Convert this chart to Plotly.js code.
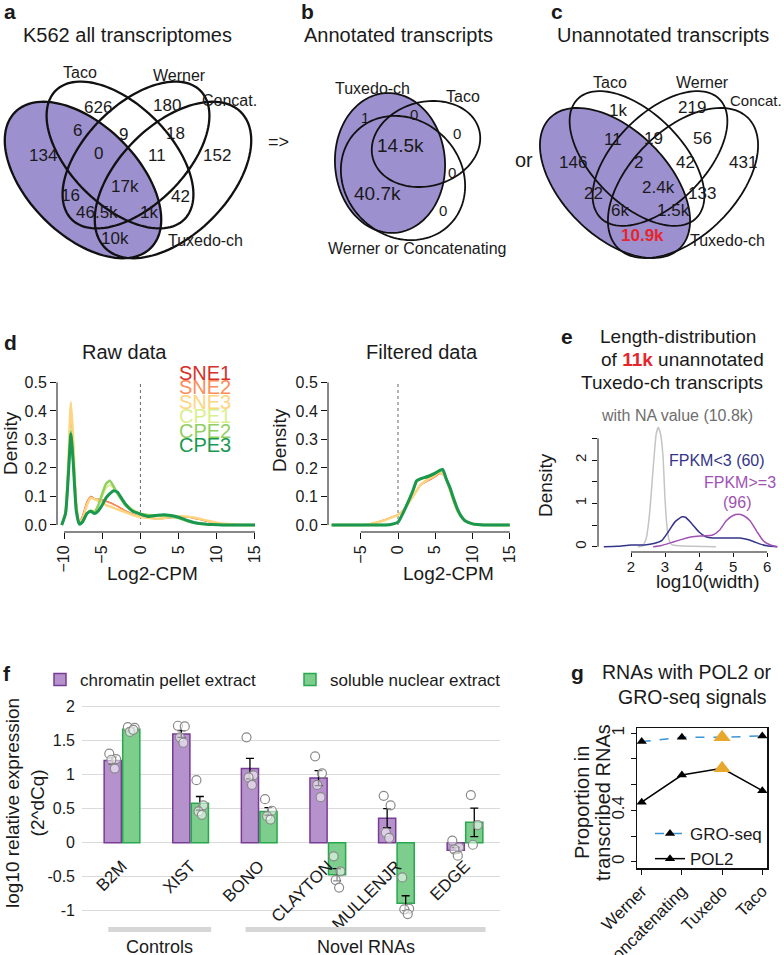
<!DOCTYPE html>
<html><head><meta charset="utf-8">
<script src="https://cdn.plot.ly/plotly-3.0.1.min.js"></script>
<style>html,body{margin:0;padding:0;background:#fff}</style>
</head><body><div id="chart" style="width:784px;height:955px"></div>
<script>
// ================= DATA =================
// Panel a: K562 all transcriptomes (4-set Venn)
const vennA_sets = ['Taco','Werner','Concat.','Tuxedo-ch'];
const vennA_counts = ['626','180','6','9','18','134','0','11','152','17k','16','42','46.5k','1k','10k'];
// Panel b: annotated transcripts (3-set Venn)
const vennB_sets = ['Tuxedo-ch','Taco','Werner or Concatenating'];
const vennB_counts = ['1','0','14.5k','0','0','40.7k','0'];
// Panel c: unannotated transcripts (4-set Venn)
const vennC_sets = ['Taco','Werner','Concat.','Tuxedo-ch'];
const vennC_counts = ['1k','219','11','19','56','146','2','42','431','2.4k','22','133','6k','1.5k','10.9k'];

// Panel d: density of Log2-CPM
const samples = ['SNE1','SNE2','SNE3','CPE1','CPE2','CPE3'];
const rawX = [-10.3,-9.8,-9.4,-9.1,-8.8,-8.4,-8.0,-7.6,-7.0,-6.5,-6.0,-5.5,-5.0,-4.5,-4.0,-3.5,-3.0,-2.5,-2.0,-1.0,0,1,2,3,4,5,6,7,8,9,10,11,12,13,14,15];
const rawSNE1 = [0,0.05,0.23,0.40,0.28,0.08,0.01,0.03,0.08,0.10,0.092,0.09,0.088,0.084,0.079,0.073,0.066,0.058,0.05,0.038,0.03,0.025,0.022,0.023,0.026,0.028,0.028,0.024,0.018,0.012,0.007,0.004,0.002,0.001,0,0];
const rawSNE2 = [0,0.05,0.24,0.42,0.29,0.08,0.01,0.03,0.08,0.10,0.09,0.09,0.088,0.083,0.078,0.072,0.066,0.058,0.05,0.038,0.03,0.025,0.022,0.023,0.026,0.028,0.028,0.024,0.018,0.012,0.007,0.004,0.002,0.001,0,0];
const rawSNE3 = [0,0.05,0.25,0.43,0.30,0.08,0.01,0.02,0.07,0.095,0.09,0.085,0.08,0.07,0.065,0.06,0.055,0.05,0.045,0.035,0.028,0.025,0.022,0.024,0.028,0.03,0.03,0.026,0.02,0.014,0.008,0.004,0.002,0.001,0,0];
const rawCPE1 = [0,0.04,0.20,0.34,0.24,0.06,0.005,0.01,0.04,0.05,0.05,0.07,0.10,0.13,0.14,0.13,0.11,0.09,0.075,0.055,0.04,0.035,0.033,0.032,0.03,0.025,0.015,0.008,0.004,0.002,0.001,0,0,0,0,0];
const rawCPE2 = [0,0.04,0.20,0.33,0.23,0.06,0.005,0.01,0.04,0.05,0.045,0.07,0.11,0.145,0.155,0.135,0.11,0.09,0.07,0.05,0.04,0.035,0.034,0.033,0.03,0.024,0.015,0.008,0.004,0.002,0.001,0,0,0,0,0];
const rawCPE3 = [0,0.04,0.19,0.32,0.22,0.05,0.003,0.01,0.04,0.048,0.04,0.05,0.07,0.095,0.11,0.12,0.115,0.095,0.075,0.048,0.038,0.03,0.033,0.036,0.033,0.027,0.017,0.009,0.004,0.002,0.001,0,0,0,0,0];
const filtX = [-8.9,-7,-5,-4,-3,-2,-1,0,1,2,2.5,3,4,5,5.5,6,6.5,7,7.5,8,8.5,9,10,11,12,13,14,15];
const filtSNE1 = [0,0,0,0.002,0.008,0.016,0.026,0.036,0.06,0.10,0.12,0.14,0.155,0.17,0.18,0.178,0.16,0.12,0.08,0.05,0.03,0.015,0.005,0.002,0.001,0,0,0];
const filtSNE2 = [0,0,0,0.002,0.008,0.016,0.026,0.036,0.06,0.10,0.12,0.14,0.155,0.17,0.18,0.178,0.16,0.12,0.08,0.05,0.03,0.015,0.005,0.002,0.001,0,0,0];
const filtSNE3 = [0,0,0,0.002,0.008,0.015,0.025,0.035,0.06,0.10,0.12,0.14,0.16,0.175,0.185,0.18,0.16,0.12,0.08,0.05,0.03,0.015,0.005,0.002,0.001,0,0,0];
const filtCPE1 = [0,0,0,0,0,0,0.002,0.01,0.06,0.12,0.15,0.16,0.17,0.18,0.19,0.19,0.16,0.125,0.085,0.05,0.028,0.014,0.004,0.001,0,0,0,0];
const filtCPE2 = [0,0,0,0,0,0,0.002,0.01,0.06,0.12,0.155,0.162,0.17,0.182,0.19,0.192,0.16,0.125,0.085,0.05,0.028,0.014,0.004,0.001,0,0,0,0];
const filtCPE3 = [0,0,0,0,0,0,0.002,0.01,0.06,0.12,0.155,0.162,0.17,0.182,0.19,0.195,0.16,0.13,0.09,0.055,0.03,0.015,0.004,0.001,0,0,0,0];

// Panel e: length distribution (log10 width)
const naX = [2.2,2.35,2.45,2.55,2.65,2.74,2.8,2.87,2.94,3.0,3.06,3.12,3.2,3.4,3.8,4.5];
const naY = [0,0.02,0.2,0.8,1.8,2.6,2.76,2.6,2.1,1.1,0.45,0.15,0.05,0.02,0.01,0];
const lowX = [1.2,1.6,2.0,2.4,2.7,2.9,3.1,3.3,3.5,3.6,3.8,4.0,4.2,4.4,4.6,4.8,5.0,5.2,5.4,5.6,5.8,6.0,6.3];
const lowY = [0,0.01,0.04,0.04,0.08,0.14,0.35,0.58,0.69,0.68,0.52,0.34,0.23,0.2,0.2,0.2,0.2,0.2,0.17,0.12,0.06,0.02,0];
const highX = [2.65,2.9,3.2,3.5,3.8,4.1,4.4,4.6,4.8,5.0,5.15,5.3,5.5,5.7,5.9,6.1,6.3];
const highY = [0,0.03,0.1,0.17,0.23,0.25,0.27,0.38,0.6,0.72,0.75,0.72,0.6,0.35,0.13,0.04,0];

// Panel f: qPCR
const genes = ['B2M','XIST','BONO','CLAYTON','MULLENJR','EDGE'];
const chromMean = [1.21,1.60,1.09,0.95,0.36,-0.11];
const chromSEM  = [0.05,0.05,0.15,0.11,0.14,0.04];
const solMean   = [1.67,0.58,0.46,-0.47,-0.89,0.30];
const solSEM    = [0.02,0.10,0.055,0.09,0.11,0.21];
const chromPts = [[1.31,1.23,1.22,1.09],[1.72,1.71,1.55,1.47],[1.55,0.99,0.96,0.85],[1.27,1.02,0.85,0.67],[0.69,0.55,0.15,0.07],[0.03,-0.07,-0.10,-0.19]];
const solPts   = [[1.70,1.69,1.63,1.66],[0.92,0.55,0.46,0.41],[0.64,0.47,0.39,0.34],[-0.20,-0.42,-0.55,-0.66],[-0.51,-0.97,-0.98,-1.05],[0.70,0.26,-0.03]];
const geneGroups = [['Controls',0,1],['Novel RNAs',2,5]];

// Panel g
const methods = ['Werner','Concatenating','Tuxedo','Taco'];
const groSeq = [0.935,0.969,0.969,0.979];
const pol2   = [0.463,0.675,0.727,0.553];

// ================= LAYOUT HELPERS =================
const W=784,H=955;
const FONT='Liberation Sans, Arial, Helvetica, sans-serif';
const TXT='#1a1a1a';
const px=x=>x/W, py=y=>1-y/H;
const dx=(a,b)=>[a/W,b/W], dy=(t,b)=>[1-b/H,1-t/H];
const ann=[], shp=[];
function A(text,x,y,size,o){o=o||{};ann.push(Object.assign({text:text,x:px(x),y:py(y),xref:'paper',yref:'paper',showarrow:false,
  xanchor:'center',yanchor:'middle',font:{family:FONT,size:size,color:o.color||TXT}},o.extra||{}));}
function ell(cx,cy,a,b,deg){const th=deg*Math.PI/180;let s='';for(let i=0;i<=120;i++){const t=2*Math.PI*i/120;
  const x=cx+a*Math.cos(th)*Math.cos(t)-b*Math.sin(th)*Math.sin(t);const y=cy+a*Math.sin(th)*Math.cos(t)+b*Math.cos(th)*Math.sin(t);
  s+=(i?'L':'M')+(x/W).toFixed(5)+','+(1-y/H).toFixed(5);}return s+'Z';}
function venn(list,lw){list.forEach(e=>shp.push({type:'path',xref:'paper',yref:'paper',path:ell(e[0],e[1],e[2],e[3],e[4]),
  fillcolor:e[5]?'#9d90cf':'rgba(0,0,0,0)',line:{color:'#111',width:lw}}));}

// ---- Venn a ----
venn([[83,180,96,55,45,true],[120,155,91,50,45],[136,155,91,50,135],[173,180,96,55,135]],2.3);
const posA=[[98,107],[167,105],[77,130],[123,135],[175,133],[43,155],[99,153],[157,155],[217,155],[125,187],[70,195],[180,197],[97,212],[149,212],[115,238]];
vennA_counts.forEach((c,i)=>A(c,posA[i][0],posA[i][1],17));
A(vennA_sets[0],80,73,16);A(vennA_sets[1],179,75,16);
A(vennA_sets[2],200,100,16,{extra:{xanchor:'left'}});A(vennA_sets[3],205,240,16);
A('K562 all transcriptomes',128,35,20);
A('<b>a</b>',10,12,21);

// ---- Venn b ----
venn([[390,163,70,55,86,true],[403,178,66,58,45],[426,144,55,42,-15]],1.8);
const posB=[[365,118],[414,115],[400,145],[457,133],[452,172],[377,193],[443,210]];
vennB_counts.forEach((c,i)=>A(c,posB[i][0],posB[i][1],c.length>2?19:15));
A(vennB_sets[0],372,88,16);A(vennB_sets[1],463,97,16);A(vennB_sets[2],417,248,16);
A('Annotated transcripts',398,35,20);
A('<b>b</b>',307,12,21);
A('=>',278,142,18);

// ---- Venn c ----
venn([[615,183,92,53,45,true],[637,158.5,84,45,45],[660,158.5,84,45,135],[683,183,92,53,135]],1.8);
const posC=[[618,110],[692,108],[613,140],[653,138],[702,138],[573,163],[638,163],[685,163],[743,163],[658,188],[593,193],[702,193],[620,210],[673,210],[642,236]];
vennC_counts.forEach((c,i)=>{ if(i===vennC_counts.length-1) A('<b>'+c+'</b>',posC[i][0],posC[i][1],17,{color:'#e5262c'}); else A(c,posC[i][0],posC[i][1],17);});
A(vennC_sets[0],610,82,16);A(vennC_sets[1],702,82,16);
A(vennC_sets[2],728,100,15,{extra:{xanchor:'left'}});A(vennC_sets[3],727,240,16);
A('Unannotated transcripts',663,35,20);
A('<b>c</b>',557,12,21);
A('or',524,160,20);

// ---- Panel d ----
const dCols=['#d73027','#fc8d59','#fdd580','#d9ef8b','#91cf60','#1a9850'];
const dW=[1.2,1.5,2.5,2,2.5,3];
const rawYs=[rawSNE1,rawSNE2,rawSNE3,rawCPE1,rawCPE2,rawCPE3];
const filtYs=[filtSNE1,filtSNE2,filtSNE3,filtCPE1,filtCPE2,filtCPE3];
const traces=[];
samples.forEach((s,i)=>traces.push({x:rawX,y:rawYs[i],xaxis:'x2',yaxis:'y2',mode:'lines',name:s,showlegend:false,
  line:{color:dCols[i],width:dW[i],shape:'spline',smoothing:0.5}}));
samples.forEach((s,i)=>traces.push({x:filtX,y:filtYs[i],xaxis:'x3',yaxis:'y3',mode:'lines',name:s,showlegend:false,
  line:{color:dCols[i],width:dW[i],shape:'spline',smoothing:0.5}}));
samples.forEach((s,i)=>A(s,205,373+14.4*i,20,{color:dCols[i]}));
A('Raw data',124,352,20);A('Filtered data',422,352,20);
A('<b>d</b>',10,343,21);
A('Density',10,443,19,{extra:{textangle:-90}});A('Density',279,440,19,{extra:{textangle:-90}});
A('Log2-CPM',152,573,19);A('Log2-CPM',448,573,19);
[['x2','y2',-10,15],['x3','y3',-5,15]].forEach(a=>{
  shp.push({type:'line',xref:a[0],yref:a[1]+' domain',x0:a[2],x1:a[3],y0:0,y1:0,line:{color:'#111',width:1}});
  shp.push({type:'line',xref:a[0]+' domain',yref:a[1],x0:0,x1:0,y0:0,y1:0.5,line:{color:'#111',width:1}});
  shp.push({type:'line',xref:a[0],yref:a[1],x0:0,x1:0,y0:0,y1:0.5,line:{color:'#666',width:1,dash:'dot'},layer:'below'});
});

// ---- Panel e ----
traces.push({x:naX,y:naY,xaxis:'x4',yaxis:'y4',mode:'lines',showlegend:false,line:{color:'#c4c4c4',width:1.5,shape:'spline',smoothing:0.4}});
traces.push({x:lowX,y:lowY,xaxis:'x4',yaxis:'y4',mode:'lines',showlegend:false,line:{color:'#34358a',width:1.5,shape:'spline',smoothing:0.6}});
traces.push({x:highX,y:highY,xaxis:'x4',yaxis:'y4',mode:'lines',showlegend:false,line:{color:'#a052b3',width:1.5,shape:'spline',smoothing:0.6}});
shp.push({type:'line',xref:'x4',yref:'y4 domain',x0:2,x1:6,y0:0,y1:0,line:{color:'#111',width:1}});
shp.push({type:'line',xref:'x4 domain',yref:'y4',x0:0,x1:0,y0:0,y1:2.5,line:{color:'#111',width:1}});
A('<b>e</b>',567,337,21);
A('Length-distribution',678,337,19);
A('of <b><span style="color:#e5262c">11k</span></b> unannotated',682,360,19);
A('Tuxedo-ch transcripts',672,382,19);
A('with NA value (10.8k)',677,415,16,{color:'#6e6e6e'});
A('FPKM&lt;3 (60)',717,460,16,{color:'#34358a'});
A('FPKM&gt;=3',740,482,16,{color:'#a052b3'});
A('(96)',737,502,16,{color:'#a052b3'});
A('Density',545,485,19,{extra:{textangle:-90}});
A('log10(width)',708,581,19);

// ---- Panel f ----
const barOff=0.135, jit=[-0.05,0.05,-0.02,0.03];
traces.push({type:'bar',x:genes.map((g,i)=>i),y:chromMean,name:'chromatin pellet extract',xaxis:'x5',yaxis:'y5',
  marker:{color:'#b592cb',line:{color:'#783c96',width:1.5}},error_y:{type:'data',array:chromSEM,color:'#000',thickness:1.3,width:4}});
traces.push({type:'bar',x:genes.map((g,i)=>i),y:solMean,name:'soluble nuclear extract',xaxis:'x5',yaxis:'y5',
  marker:{color:'#7dcd8c',line:{color:'#27a84c',width:1.5}},error_y:{type:'data',array:solSEM,color:'#000',thickness:1.3,width:4}});
[[chromPts,-barOff],[solPts,barOff]].forEach(([pts,off])=>{
  const xs=[],ys=[];pts.forEach((arr,i)=>arr.forEach((v,j)=>{xs.push(i+off+jit[j]);ys.push(v);}));
  traces.push({type:'scatter',mode:'markers',x:xs,y:ys,xaxis:'x5',yaxis:'y5',showlegend:false,
    marker:{symbol:'circle',size:9,color:'rgba(255,255,255,0.55)',line:{color:'#8a8a8a',width:1.2}}});
});
geneGroups.forEach(g=>{
  shp.push({type:'rect',xref:'x5',yref:'paper',x0:g[1]-0.2,x1:g[2]+0.3,y0:py(932),y1:py(927),fillcolor:'#d6d6d6',line:{width:0}});
  ann.push({text:g[0],x:(g[1]-0.2+g[2]+0.3)/2,xref:'x5',y:py(935),yref:'paper',yanchor:'top',xanchor:'center',showarrow:false,font:{family:FONT,size:18,color:TXT}});
});
A('<b>f</b>',7,673,21);
A('log10 relative expression<br>(2^dCq)',25,803,19,{extra:{textangle:-90}});

// ---- Panel g ----
traces.push({x:[1,2,3,4],y:groSeq,xaxis:'x6',yaxis:'y6',mode:'lines+markers',name:'GRO-seq',legend:'legend2',
  line:{color:'#3b95d2',width:1.5,dash:'dash'},marker:{symbol:'triangle-up',size:9,color:'#000'}});
traces.push({x:[1,2,3,4],y:pol2,xaxis:'x6',yaxis:'y6',mode:'lines+markers',name:'POL2',legend:'legend2',
  line:{color:'#000',width:1.5},marker:{symbol:'triangle-up',size:9,color:'#000'}});
traces.push({x:[3,3],y:[groSeq[2],pol2[2]],xaxis:'x6',yaxis:'y6',mode:'markers',showlegend:false,
  marker:{symbol:'triangle-up',size:15,color:'#e8a82e'}});
A('<b>g</b>',577,672,21);
A('RNAs with POL2 or',687,672,19.5);A('GRO-seq signals',692,697,19.5);
A('Proportion in',582,803,20,{extra:{textangle:-90}});A('transcribed RNAs',603,803,20,{extra:{textangle:-90}});

// ================= AXES =================
const tf=(s)=>({family:FONT,size:s,color:TXT});
const base={showgrid:false,zeroline:false,showline:false,ticks:'outside',ticklen:6,tickcolor:'#111',tickwidth:1,tickfont:tf(16)};
const layout={
  width:W,height:H,margin:{l:0,r:0,t:0,b:0},paper_bgcolor:'#fff',plot_bgcolor:'rgba(0,0,0,0)',
  font:{family:FONT,color:TXT},
  barmode:'group',bargap:0.46,bargroupgap:0.074,
  xaxis2:Object.assign({},base,{domain:dx(57,262),range:[-10.92,15.92],tickvals:[-10,-5,0,5,10,15],tickangle:-90,anchor:'y2'}),
  yaxis2:Object.assign({},base,{domain:dy(375,532),range:[-0.0246,0.526],tickvals:[0,0.1,0.2,0.3,0.4,0.5],tickformat:'.1f',anchor:'x2'}),
  xaxis3:Object.assign({},base,{domain:dx(328,520),range:[-9.40,16.38],tickvals:[-5,0,5,10,15],tickangle:-90,anchor:'y3'}),
  yaxis3:Object.assign({},base,{domain:dy(375,532),range:[-0.0246,0.526],tickvals:[0,0.1,0.2,0.3,0.4,0.5],tickformat:'.1f',anchor:'x3'}),
  xaxis4:Object.assign({},base,{domain:dx(598,780),range:[1.03,6.38],tickvals:[2,3,4,5,6],tickangle:0,anchor:'y4',ticklen:4,ticklabelstandoff:-3,tickfont:tf(15)}),
  yaxis4:Object.assign({},base,{domain:dy(420,552),range:[-0.122,2.926],tickvals:[0,0.5,1,1.5,2,2.5],ticktext:['0','','1','','2',''],tickangle:-90,anchor:'x4',ticklen:5,tickfont:tf(15)}),
  xaxis5:Object.assign({},base,{domain:dx(82,500),range:[-0.583,5.51],tickvals:[0,1,2,3,4,5],ticktext:genes,tickangle:-45,ticks:'',
    anchor:'free',position:py(852),tickfont:tf(17)}),
  yaxis5:Object.assign({},base,{domain:dy(690,925),range:[-1.21,2.246],tickvals:[-1,-0.5,0,0.5,1,1.5,2],ticktext:['-1','-0.5','0','0.5','1','1.5','2'],
    ticks:'',showgrid:true,gridcolor:'#dadada',gridwidth:1.5,anchor:'x5',ticklabelstandoff:6}),
  xaxis6:Object.assign({},base,{domain:dx(637,767),range:[0.883,4.117],tickvals:[1,2,3,4],ticktext:methods,tickangle:-45,anchor:'y6',
    showline:true,mirror:true,linecolor:'#111',linewidth:1.5,ticklen:5,tickfont:tf(17)}),
  yaxis6:Object.assign({},base,{domain:dy(728,868),range:[-0.049,1.041],tickvals:[0,0.2,0.4,0.6,0.8,1],ticktext:['0','','0.4','','','1'],tickangle:-90,anchor:'x6',
    showline:true,mirror:true,linecolor:'#111',linewidth:1.5,ticklen:5,tickfont:tf(17)}),
  legend:{x:px(40),y:py(662),xanchor:'left',yanchor:'top',orientation:'h',font:tf(17),bgcolor:'rgba(0,0,0,0)',
    entrywidth:205,entrywidthmode:'pixels',itemwidth:30,traceorder:'normal'},
  legend2:{x:px(650),y:py(816),xanchor:'left',yanchor:'top',font:tf(17),bgcolor:'rgba(0,0,0,0)',itemwidth:30,tracegroupgap:0},
  shapes:shp,annotations:ann
};
Plotly.newPlot('chart',traces,layout,{displayModeBar:false,staticPlot:true});
</script></body></html>
